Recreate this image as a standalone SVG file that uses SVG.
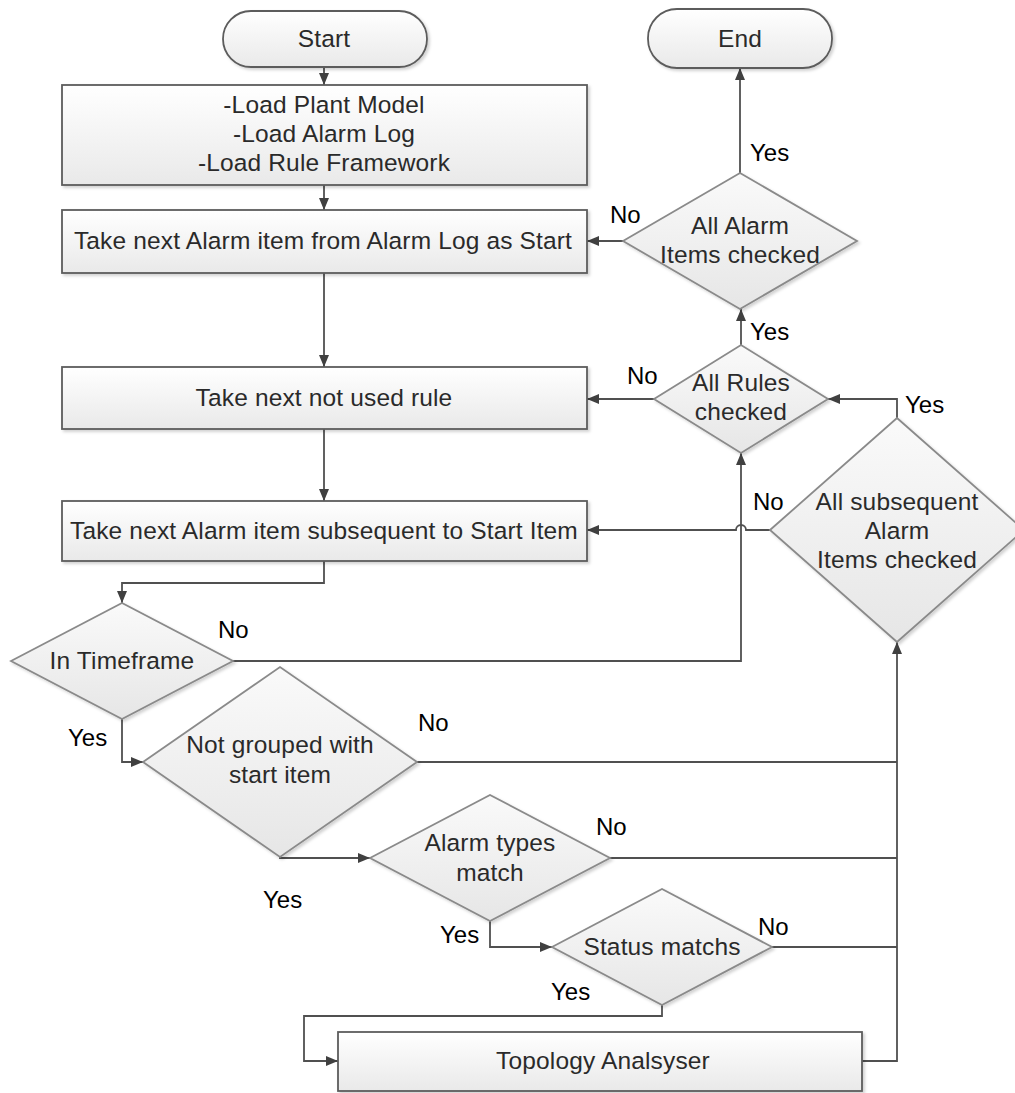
<svg xmlns="http://www.w3.org/2000/svg" width="1015" height="1093" viewBox="0 0 1015 1093">
<style>
.box{fill:url(#gb);stroke:#5c5c5c;stroke-width:1.8;filter:url(#sh)}
.dia{fill:url(#gd);stroke:#8a8a8a;stroke-width:1.8;filter:url(#sh)}
.t{font-family:"Liberation Sans",Arial,sans-serif;font-size:24.5px;letter-spacing:0.15px;fill:#2a2a2a;text-anchor:middle}
.l{font-family:"Liberation Sans",Arial,sans-serif;font-size:24px;fill:#000}
.c{fill:none;stroke:#505050;stroke-width:1.8}
.a{marker-end:url(#ar)}
</style>
<defs>
<linearGradient id="gb" x1="0" y1="0" x2="0" y2="1"><stop offset="0" stop-color="#ffffff"/><stop offset="1" stop-color="#e9e9e9"/></linearGradient>
<linearGradient id="gd" x1="0" y1="0" x2="0" y2="1"><stop offset="0" stop-color="#fafafa"/><stop offset="1" stop-color="#e6e6e6"/></linearGradient>
<filter id="sh" x="-10%" y="-10%" width="120%" height="130%"><feDropShadow dx="2" dy="2" stdDeviation="1.5" flood-color="#000" flood-opacity="0.18"/></filter>
<marker id="ar" markerUnits="userSpaceOnUse" markerWidth="14" markerHeight="12" refX="12" refY="5" orient="auto"><path d="M0,0 L12,5 L0,10 z" fill="#404040"/></marker>
</defs>
<rect width="1015" height="1093" fill="#fff"/>
<g id="connectors">
<path class="c a" d="M324,67 V85"/>
<path class="c a" d="M324,185 V210"/>
<path class="c a" d="M324,273 V367"/>
<path class="c a" d="M324,429 V501"/>
<path class="c a" d="M324,561 V583 H122 V603"/>
<path class="c a" d="M122,719 V762 H143"/>
<path class="c a" d="M233,661 H741 V453"/>
<path class="c a" d="M280,857 V858 H370"/>
<path class="c" d="M417,762 H897"/>
<path class="c a" d="M490,921 V947 H552"/>
<path class="c" d="M610,858 H897"/>
<path class="c a" d="M662,1005 V1016 H304 V1061 H338"/>
<path class="c" d="M772,947 H897"/>
<path class="c a" d="M862,1061 H897 V642"/>
<path class="c a" d="M770,530 H746 A5,5 0 0 0 736,530 H587"/>
<path class="c a" d="M897,418 V399 H828"/>
<path class="c a" d="M654,399 H587"/>
<path class="c a" d="M741,345 V309"/>
<path class="c a" d="M623,241 H587"/>
<path class="c a" d="M740,173 V68"/>
</g>
<g id="start"><rect class="box" x="223" y="11" width="204" height="56" rx="28"/><text class="t" x="324" y="47">Start</text></g>
<g id="end"><rect class="box" x="648" y="9" width="184" height="59" rx="29"/><text class="t" x="740" y="47">End</text></g>
<g id="load"><rect class="box" x="62" y="85" width="525" height="100"/><text class="t" x="324" y="113">-Load Plant Model</text><text class="t" x="324" y="142">-Load Alarm Log</text><text class="t" x="324" y="171">-Load Rule Framework</text></g>
<g id="take-start"><rect class="box" x="62" y="210" width="525" height="63"/><text class="t" x="323" y="249">Take next Alarm item from Alarm Log as Start</text></g>
<g id="take-rule"><rect class="box" x="62" y="367" width="525" height="62"/><text class="t" x="324" y="406">Take next not used rule</text></g>
<g id="take-subsequent"><rect class="box" x="62" y="501" width="525" height="60"/><text class="t" x="324" y="539">Take next Alarm item subsequent to Start Item</text></g>
<g id="topology"><rect class="box" x="338" y="1032" width="524" height="59"/><text class="t" x="603" y="1069">Topology Analsyser</text></g>
<g id="all-alarm"><polygon class="dia" points="623,241 740,173 857,241 740,309"/><text class="t" x="740" y="234">All Alarm</text><text class="t" x="740" y="263">Items checked</text></g>
<g id="all-rules"><polygon class="dia" points="654,399 741,345 828,399 741,453"/><text class="t" x="741" y="391">All Rules</text><text class="t" x="741" y="420">checked</text></g>
<g id="all-subsequent"><polygon class="dia" points="770,530 897,418 1024,530 897,642"/><text class="t" x="897" y="510">All subsequent</text><text class="t" x="897" y="539">Alarm</text><text class="t" x="897" y="568">Items checked</text></g>
<g id="in-timeframe"><polygon class="dia" points="11,661 122,603 233,661 122,719"/><text class="t" x="122" y="669">In Timeframe</text></g>
<g id="not-grouped"><polygon class="dia" points="143,762 280,667 417,762 280,857"/><text class="t" x="280" y="753">Not grouped with</text><text class="t" x="280" y="783">start item</text></g>
<g id="alarm-types"><polygon class="dia" points="370,858 490,795 610,858 490,921"/><text class="t" x="490" y="851">Alarm types</text><text class="t" x="490" y="881">match</text></g>
<g id="status"><polygon class="dia" points="552,947 662,889 772,947 662,1005"/><text class="t" x="662" y="955">Status matchs</text></g>
<g id="labels">
<text class="l" x="750" y="161">Yes</text>
<text class="l" x="610" y="223">No</text>
<text class="l" x="750" y="340">Yes</text>
<text class="l" x="627" y="384">No</text>
<text class="l" x="905" y="413">Yes</text>
<text class="l" x="753" y="510">No</text>
<text class="l" x="218" y="638">No</text>
<text class="l" x="68" y="746">Yes</text>
<text class="l" x="418" y="731">No</text>
<text class="l" x="596" y="835">No</text>
<text class="l" x="263" y="908">Yes</text>
<text class="l" x="440" y="943">Yes</text>
<text class="l" x="758" y="935">No</text>
<text class="l" x="551" y="1000">Yes</text>
</g>
</svg>
